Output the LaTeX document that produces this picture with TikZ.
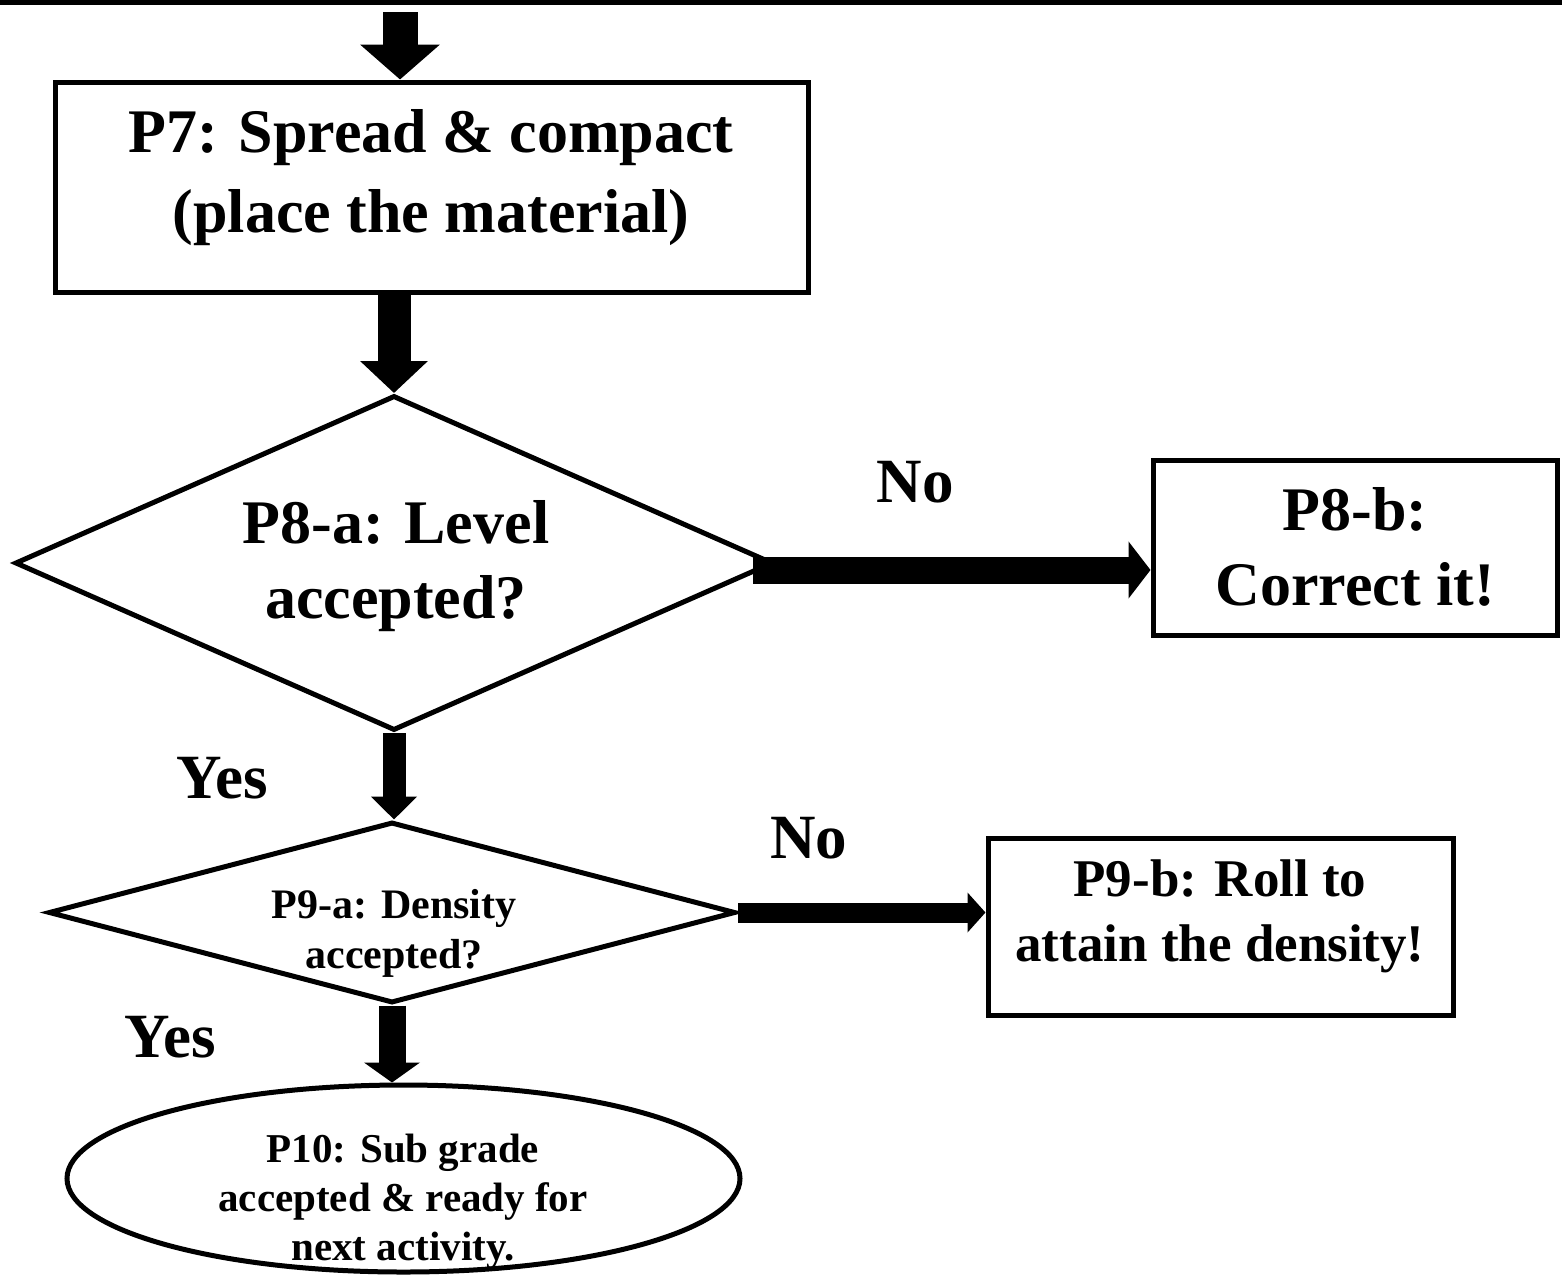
\documentclass[tikz,border=0pt]{standalone}
\usepackage{fontspec}
\setmainfont{Liberation Serif}
\usetikzlibrary{shapes.geometric,arrows.meta}
\tikzset{
  boxnode/.style={draw, line width=5pt, rectangle, inner sep=0pt},
  decnode/.style={draw, line width=5pt, diamond, inner sep=0pt},
  endnode/.style={draw, line width=5pt, ellipse, inner sep=0pt},
  txt/.style n args={2}{align=center, inner sep=0pt, font=\bfseries\fontsize{#1}{#2}\selectfont},
  lbl/.style={font=\bfseries\fontsize{63}{70}\selectfont, inner sep=0pt},
}
\begin{document}
\begin{tikzpicture}[x=1pt,y=-1pt]
\useasboundingbox (0,0) rectangle (1562,1277);
% top rule
\coordinate (tl) at (0,2.5);
\coordinate (tr) at (1562,2.5);
\draw[line width=5pt] (tl) -- (tr);

% shapes
\node[boxnode, minimum width=753pt, minimum height=210pt] (p7) at (431.5,187) {};
\node[decnode, minimum width=758pt, minimum height=335pt] (d1) at (394,563) {};
\node[boxnode, minimum width=404pt, minimum height=175pt] (p8b) at (1355,547.5) {};
\node[decnode, minimum width=687pt, minimum height=181pt] (d2) at (392,912.5) {};
\node[boxnode, minimum width=465pt, minimum height=177pt] (p9b) at (1220.5,926.5) {};
\node[endnode, minimum width=673pt, minimum height=187pt] (p10) at (403.5,1178.5) {};

% texts
\node[txt={62}{80}] (p7t) at (431,178) {P7: Spread \& compact\\(place the material)};
\node[txt={62}{75}] (d1t) at (396,566) {P8-a: Level\\accepted?};
\node[txt={62}{75}] (p8bt) at (1355,547) {P8-b:\\Correct it!};
\node[txt={42}{50}] (d2t) at (394,933) {P9-a: Density\\accepted?};
\node[txt={53}{65}] (p9bt) at (1220,916) {P9-b: Roll to\\attain the density!};
\node[txt={41}{49}] (p10t) at (403,1202) {P10: Sub grade\\accepted \& ready for\\next activity.};

% labels
\node[lbl] (no1) at (915,482) {No};
\node[lbl] (yes1) at (222,778) {Yes};
\node[lbl] (no2) at (809,838) {No};
\node[lbl] (yes2) at (170,1037) {Yes};

% arrows
\coordinate (start) at (400,12);
\coordinate (n1) at (753,570);
\draw[line width=35pt, -{Triangle[width=78pt,length=35pt]}] (start) -- (p7.north -| start);
\draw[line width=33pt, -{Triangle[width=66pt,length=32pt]}] (p7.south -| d1.north) -- (d1.north);
\draw[line width=27pt, -{Triangle[width=56pt,length=22pt]}] (n1) -- (p8b.west |- n1);
\draw[line width=23pt, -{Triangle[width=45pt,length=23pt]}] (d1.south) -- (d2.north -| d1.south);
\draw[line width=20pt, -{Triangle[width=39pt,length=18pt]}] (d2.east) -- (p9b.west |- d2.east);
\draw[line width=27pt, -{Triangle[width=55pt,length=20pt]}] (d2.south) -- (p10.north -| d2.south);
\end{tikzpicture}
\end{document}
